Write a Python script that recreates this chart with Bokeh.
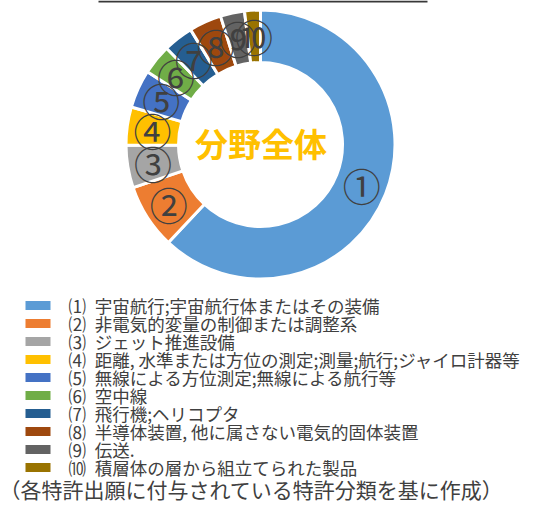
import math
from bokeh.plotting import figure
from bokeh.models import Range1d, ColumnDataSource
from bokeh.core.properties import value
from bokeh.embed import file_html
from bokeh.resources import INLINE

# ---- data ----
numbers = ["⑴", "⑵", "⑶", "⑷", "⑸", "⑹", "⑺", "⑻", "⑼", "⑽"]
categories = [
    "宇宙航行;宇宙航行体またはその装備",
    "非電気的変量の制御または調整系",
    "ジェット推進設備",
    "距離, 水準または方位の測定;測量;航行;ジャイロ計器等",
    "無線による方位測定;無線による航行等",
    "空中線",
    "飛行機;ヘリコプタ",
    "半導体装置, 他に属さない電気的固体装置",
    "伝送.",
    "積層体の層から組立てられた製品",
]
slice_labels = ["①", "②", "③", "④", "⑤", "⑥", "⑦", "⑧", "⑨", "⑩"]
shares = [62.0, 7.8, 5.1, 4.6, 4.6, 3.6, 3.6, 3.9, 2.9, 1.9]
colors = ["#5B9BD5", "#ED7D31", "#A5A5A5", "#FFC000", "#4472C4",
          "#70AD47", "#255E91", "#9E480E", "#636363", "#997300"]
center_title = "分野全体"
footnote = "（各特許出願に付与されている特許分類を基に作成）"

# ---- layout constants ----
W, H = 522, 504
FONT = value("Noto Sans CJK JP")
TXT = "#404040"
cx, cy = 260, H - 144
r_in, r_out = 82, 134.5
r_lab = 109

p = figure(width=W, height=H, x_range=Range1d(0, W), y_range=Range1d(0, H),
           output_backend="svg", toolbar_location=None, min_border=0,
           x_axis_type=None, y_axis_type=None)
p.grid.visible = False
p.outline_line_color = None
p.background_fill_color = "white"
p.border_fill_color = "white"

# top rule (bottom edge of title frame)
p.segment(x0=[98], y0=[H - 1], x1=[427], y1=[H - 1], line_color="#383838", line_width=2)

# donut
total = sum(shares)
starts, ends, lx, ly = [], [], [], []
acc = 0.0
for s in shares:
    t1 = acc / total * 360.0
    acc += s
    t2 = acc / total * 360.0
    starts.append(math.radians(90 - t2))
    ends.append(math.radians(90 - t1))
    tm = math.radians((t1 + t2) / 2)
    lx.append(cx + r_lab * math.sin(tm))
    ly.append(cy + r_lab * math.cos(tm))

src = ColumnDataSource(dict(start=starts, end=ends, color=colors, lx=lx, ly=ly, lab=slice_labels))
p.annular_wedge(x=cx, y=cy, inner_radius=r_in, outer_radius=r_out,
                start_angle="start", end_angle="end", fill_color="color",
                line_color="white", line_width=3, source=src)
p.text(x="lx", y="ly", text="lab", source=src, text_font=FONT, text_font_size="38px",
       text_color=TXT, text_align="center", text_baseline="middle")

p.text(x=[cx + 0.5], y=[H - 142], text=[center_title], text_font=FONT, text_font_size="33px",
       text_font_style="bold", text_color="#FFC000", text_align="center", text_baseline="middle")

# legend
row0, step = H - 305, 18.0
ys = [row0 - i * step for i in range(len(categories))]
leg = ColumnDataSource(dict(y=ys, color=colors,
                            t=[n + "\u2002" + c for n, c in zip(numbers, categories)]))
p.rect(x=37.5, y="y", width=25, height=9, fill_color="color", line_color=None, source=leg)
p.text(x=68, y="y", text="t", source=leg, text_font=FONT, text_font_size="17.5px",
       text_color=TXT, text_align="left", text_baseline="middle")

p.text(x=[-1], y=[H - 488], text=[footnote], text_font=FONT, text_font_size="21px",
       text_color=TXT, text_align="left", text_baseline="middle")

open("out.html", "w").write(file_html(p, INLINE))
